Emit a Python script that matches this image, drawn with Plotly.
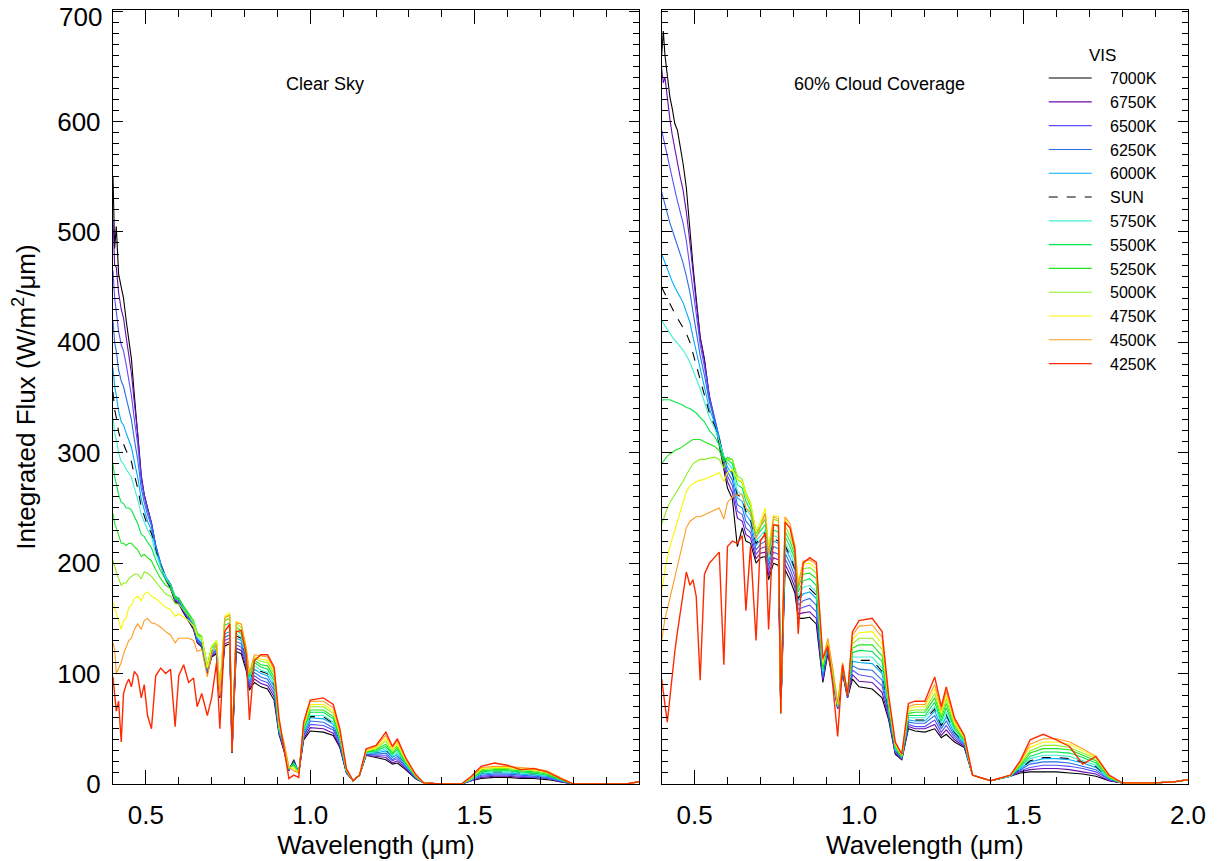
import plotly.graph_objects as go

# ---------------- data ----------------
wavelength = [0.400, 0.405, 0.410, 0.417, 0.425, 0.432, 0.440, 0.448, 0.456, 0.465,
              0.475, 0.486, 0.495, 0.505, 0.517, 0.530, 0.545, 0.560, 0.575, 0.589,
              0.600, 0.615, 0.630, 0.645, 0.656, 0.670, 0.687, 0.700, 0.715, 0.725,
              0.740, 0.755, 0.762, 0.775, 0.790, 0.805, 0.815, 0.830, 0.850, 0.870,
              0.890, 0.905, 0.920, 0.935, 0.950, 0.965, 0.980, 1.000, 1.040, 1.070,
              1.090, 1.110, 1.130, 1.150, 1.170, 1.200, 1.230, 1.250, 1.265, 1.290,
              1.320, 1.345, 1.400, 1.460, 1.490, 1.520, 1.560, 1.600, 1.640, 1.680,
              1.720, 1.760, 1.800, 1.900, 1.960, 2.000]

series_names = ["7000K", "6750K", "6500K", "6250K", "6000K", "SUN",
                "5750K", "5500K", "5250K", "5000K", "4750K", "4500K", "4250K"]

y_tick_values = [0, 100, 200, 300, 400, 500, 600, 700]
y_tick_labels = ["0", "100", "200", "300", "400", "500", "600", ""]   # 700 drawn below, kept inside page

# Clear sky panel
clear_7000k = [550,485,505,462,450,440,420,400,385,352, 320,278,262,250,236,215,198,185,177,165,
               163,155,148,140,128,124,100,115,118,78, 125,127,28,120,118,103,85,92,88,86,
               76,45,30,12,22,10,40,48,47,44, 33,10,3,8,26,24,22,18,19,13, 5,1,0,0,3,5,6,6,5,5, 4,2,0,0,0,2]
clear_6750k = [510,470,468,445,430,422,405,388,372,345, 318,280,262,250,237,216,199,186,178,166,
               164,156,149,141,129,125,101,116,119,79, 127,129,28,123,121,106,87,95,91,89,
               79,46,31,12,21,10,41,51,50,46, 34,10,3,8,26,25,24,19,21,14, 5,1,0,0,3,6,7,7,6,6, 5,2,0,0,0,2]
clear_6500k = [465,440,428,410,398,392,380,366,352,330, 308,275,260,248,236,216,200,187,179,167,
               165,157,150,142,130,126,102,117,120,80, 130,132,29,126,124,109,89,98,94,92,
               82,47,32,13,21,10,43,54,53,49, 36,11,3,8,27,26,26,21,23,15, 6,1,0,0,3,7,8,8,7,6, 5,3,0,0,0,2]
clear_6250k = [420,400,392,375,365,360,350,340,330,312, 294,268,255,244,234,215,200,188,180,168,
               166,158,151,143,131,127,103,118,121,81, 133,135,29,129,127,111,91,101,97,95,
               85,48,33,13,20,10,44,57,56,51, 37,11,3,8,27,27,28,22,25,16, 6,1,0,0,4,8,9,9,8,7, 6,3,0,0,0,2]
clear_6000k = [377,360,352,338,328,325,318,312,305,292, 278,258,248,238,230,213,199,188,181,169,
               167,159,152,144,132,128,104,119,122,82, 136,138,29,132,130,114,93,104,100,98,
               88,49,34,13,20,10,46,60,59,54, 39,11,3,8,28,28,30,24,27,17, 6,1,0,0,4,9,10,10,9,8, 7,3,0,0,0,2]
clear_sun = [355,339,332,319,310,308,302,297,292,280, 268,251,243,234,227,211,198,188,181,170,
             168,160,153,145,133,129,105,120,123,83, 138,140,29,134,132,115,94,106,102,100,
             90,50,35,14,20,10,47,61,61,55, 40,12,3,8,28,29,31,25,28,18, 7,1,0,0,4,10,11,11,10,9, 8,4,0,0,0,2]
clear_5750k = [332,318,312,300,292,290,285,282,278,268, 258,244,238,230,224,209,197,187,181,170,
               168,160,153,146,134,130,105,121,124,83, 140,142,30,136,133,116,95,107,103,101,
               91,50,35,14,19,10,47,62,62,56, 40,12,3,8,28,29,32,25,29,18, 7,1,0,0,4,10,11,11,10,9, 8,4,0,0,0,2]
clear_5500k = [290,278,272,262,255,254,250,250,248,242, 236,226,224,219,214,203,193,185,180,170,
               168,161,154,147,136,132,106,123,126,84, 144,146,30,139,136,118,97,110,106,104,
               94,51,36,14,18,10,49,65,65,59, 42,12,3,8,29,30,34,27,31,19, 7,1,0,0,5,11,12,12,11,10, 8,4,0,0,0,2]
clear_5250k = [245,236,232,225,218,218,216,218,218,215, 212,206,208,205,202,194,186,180,177,168,
               167,161,155,148,137,133,107,124,128,85, 148,150,30,142,139,120,99,112,108,107,
               97,52,36,14,17,10,50,67,67,61, 43,12,3,8,29,31,36,28,33,20, 7,1,0,0,5,12,13,13,12,11, 9,4,0,0,0,2]
clear_5000k = [203,196,192,186,180,182,182,186,188,190, 190,186,192,191,188,183,177,172,170,163,
               163,158,153,147,137,134,107,125,130,85, 151,153,31,145,142,122,100,114,111,110,
               100,53,37,15,16,10,52,70,70,64, 45,13,3,8,30,32,39,30,35,21, 8,1,0,0,5,13,14,14,13,12, 10,5,0,0,0,2]
clear_4750k = [165,160,155,150,140,148,150,160,162,168, 170,166,172,174,170,168,164,160,158,152,
               154,151,148,143,134,132,105,124,130,84, 152,155,31,147,145,124,101,116,113,112,
               102,54,37,15,14,10,53,72,72,66, 46,13,3,8,30,33,41,31,37,22, 8,1,0,0,6,14,15,15,14,13, 11,5,0,0,0,2]
clear_4500k = [128,122,100,105,110,118,125,130,132,140, 145,140,148,150,146,145,142,138,135,128,
               132,132,132,130,120,122,97,118,126,80, 150,153,31,146,145,124,100,117,116,115,
               104,55,38,15,12,10,55,75,75,69, 48,13,3,8,31,34,44,33,39,23, 8,1,0,0,6,15,16,16,15,14, 12,6,0,0,0,2]
clear_4250k = [97,80,66,75,38,82,90,95,88,102, 98,78,90,62,50,98,105,100,104,52,
               98,108,92,96,70,82,62,78,110,50, 138,145,29,138,139,118,58,112,117,117,
               106,60,33,5,8,6,56,76,78,72, 50,14,3,8,32,35,47,34,41,24, 9,1,0,0,7,16,19,17,13,14, 11,5,0,0,0,2]

# 60% cloud coverage panel
cloud_7000k = [660,682,660,640,622,612,598,592,578,562, 540,500,470,440,405,385,350,330,308,285,
               268,258,215,232,220,218,200,205,206,185, 200,198,64,194,185,173,150,150,151,145,
               92,118,95,68,100,78,95,88,86,78, 58,27,22,50,48,47,50,42,45,38, 33,8,3,7,10,11,11,11,10,9, 7,3,1,1,2,4]
cloud_6750k = [648,635,640,620,602,588,574,562,550,538, 518,490,462,436,404,383,352,333,312,290,
               274,264,241,238,226,223,204,209,210,189, 205,203,64,199,190,178,154,155,156,150,
               94,120,96,68,101,78,99,93,92,83, 60,28,22,52,50,50,54,44,49,40, 34,8,3,7,11,13,14,14,13,11, 9,3,1,1,2,4]
cloud_6500k = [592,585,578,568,558,548,538,528,518,508, 492,470,448,426,398,378,350,333,314,293,
               279,270,247,244,232,228,208,213,215,193, 210,208,64,204,195,183,158,160,162,156,
               96,122,97,69,102,79,103,99,97,89, 62,29,23,54,52,52,58,47,53,42, 35,8,3,7,12,15,17,17,16,14, 11,4,1,1,2,4]
cloud_6250k = [536,530,525,516,508,502,495,488,480,472, 460,445,428,410,388,370,346,331,314,295,
               283,275,253,250,238,233,212,217,220,197, 215,213,64,209,200,188,162,166,168,162,
               98,124,98,69,103,79,107,104,103,94, 64,30,23,56,55,55,62,50,57,44, 36,8,3,7,13,18,20,20,19,16, 13,4,1,1,2,4]
cloud_6000k = [480,476,472,466,460,455,450,446,441,436, 428,418,405,392,375,360,340,328,313,296,
               287,280,259,256,244,238,216,221,225,201, 220,218,64,214,205,193,166,172,174,168,
               100,126,99,70,104,80,111,110,109,100, 66,31,24,58,57,57,66,52,61,46, 37,8,3,7,14,20,23,23,22,19, 15,5,1,1,2,4]
cloud_sun = [450,447,444,439,434,430,426,422,418,414, 408,400,390,380,366,353,336,325,312,296,
             289,282,262,259,247,240,218,223,228,203, 222,220,64,216,207,195,168,175,177,171,
             101,126,99,70,104,80,113,112,112,102, 67,31,24,59,58,58,68,53,63,47, 37,8,3,7,14,21,24,24,23,20, 16,5,1,1,2,4]
cloud_5750k = [420,418,415,412,408,405,402,399,396,393, 388,382,375,368,358,346,332,323,311,296,
               291,285,265,262,250,243,220,225,230,205, 225,223,64,219,210,198,170,178,180,174,
               102,127,100,70,105,80,115,115,115,105, 68,32,24,60,60,60,70,55,65,48, 38,8,3,7,15,23,26,26,25,21, 17,5,1,1,2,4]
cloud_5500k = [347,348,348,348,348,347,346,345,344,343, 341,340,338,336,332,328,320,315,307,295,
               294,290,271,268,256,248,224,229,235,209, 230,228,64,224,215,203,174,184,186,180,
               104,128,101,71,106,81,119,121,120,111, 70,33,25,62,62,62,74,57,69,50, 39,8,3,8,16,25,29,29,28,24, 19,6,1,1,2,4]
cloud_5250k = [290,292,295,297,299,300,302,303,304,306, 308,310,312,312,312,310,308,306,302,292,
               296,294,276,273,261,252,227,233,240,212, 235,233,64,229,220,207,178,190,191,186,
               106,129,102,71,107,81,123,126,126,116, 72,34,25,64,65,65,78,60,73,52, 40,8,3,8,17,28,32,32,31,26, 21,6,1,1,2,4]
cloud_5000k = [235,240,245,250,255,258,262,266,270,274, 280,285,290,292,294,294,295,296,294,286,
               294,294,279,276,264,255,229,236,245,214, 240,238,64,234,225,211,181,195,196,191,
               108,130,103,72,108,82,127,132,132,122, 74,35,26,66,67,67,82,62,77,54, 41,8,3,8,18,30,35,35,33,28, 23,7,1,1,2,4]
cloud_4750k = [175,185,195,205,215,222,230,238,246,254, 265,270,272,274,275,276,278,280,282,274,
               282,285,276,274,262,254,228,237,250,214, 243,242,64,240,232,215,184,199,200,195,
               110,131,104,72,109,82,131,137,138,127, 76,36,26,68,70,70,86,65,80,56, 42,8,3,8,19,33,38,38,36,30, 24,7,1,1,2,4]
cloud_4500k = [130,140,150,158,168,178,188,198,208,218, 232,238,240,242,242,244,246,248,250,240,
               255,260,262,262,250,246,222,232,245,208, 242,240,64,242,236,216,180,202,203,199,
               112,132,105,73,110,83,135,143,144,133, 78,37,27,70,72,72,90,67,84,58, 43,8,3,8,20,36,41,41,38,32, 25,8,1,1,2,4]
cloud_4250k = [95,85,72,56,80,100,120,138,155,172, 192,180,185,170,94,190,200,205,210,108,
               215,220,218,225,157,215,130,220,227,140, 235,234,64,237,232,212,136,200,205,201,
               114,125,90,43,108,80,138,148,150,138, 80,38,27,73,75,75,97,70,88,60, 44,8,3,8,21,40,45,40,34,18, 25,8,1,1,2,4]

clear_series = [clear_7000k, clear_6750k, clear_6500k, clear_6250k, clear_6000k, clear_sun,
                clear_5750k, clear_5500k, clear_5250k, clear_5000k, clear_4750k, clear_4500k, clear_4250k]
cloud_series = [cloud_7000k, cloud_6750k, cloud_6500k, cloud_6250k, cloud_6000k, cloud_sun,
                cloud_5750k, cloud_5500k, cloud_5250k, cloud_5000k, cloud_4750k, cloud_4500k, cloud_4250k]

# ---------------- styles ----------------
colors = ["#000000", "#6a0cb0", "#5a50ff", "#2d6be6", "#00aaff", "#000000",
          "#40f0d0", "#00e64d", "#1ee61e", "#8cf01e", "#f7f700", "#ff9a1e", "#ff2a00"]
dashes = ["solid"] * 5 + ["dash"] + ["solid"] * 7
widths = [1.1] * 12 + [1.4]

FONT = "Liberation Sans, Arial, Helvetica, sans-serif"
PAD = "\u00a0\u00a0\u00a0"   # gap between legend line sample and its label

fig = go.Figure()
for i, name in enumerate(series_names):
    fig.add_trace(go.Scatter(
        x=wavelength, y=clear_series[i], mode="lines", name=PAD + name,
        line=dict(color=colors[i], width=widths[i], dash=dashes[i]),
        legendgroup=name, showlegend=True, xaxis="x", yaxis="y"))
for i, name in enumerate(series_names):
    fig.add_trace(go.Scatter(
        x=wavelength, y=cloud_series[i], mode="lines", name=PAD + name,
        line=dict(color=colors[i], width=widths[i], dash=dashes[i]),
        legendgroup=name, showlegend=False, xaxis="x2", yaxis="y2"))

x_minor = [0.5, 0.6, 0.7, 0.8, 0.9, 1.0, 1.1, 1.2, 1.3, 1.4, 1.5, 1.6, 1.7, 1.8, 1.9]
tickfont = dict(family=FONT, size=26, color="black")

xcommon = dict(range=[0.4, 2.0], showline=True, linecolor="black", linewidth=1.4,
               mirror="ticks", ticks="inside", ticklen=14, tickwidth=1.2, tickcolor="black",
               showgrid=False, zeroline=False, tickfont=tickfont, ticklabelstandoff=8,
               automargin=False,
               minor=dict(tickmode="array", tickvals=x_minor, ticks="inside", ticklen=7,
                          tickwidth=1.1, tickcolor="black", showgrid=False),
               title=dict(text="Wavelength (μm)", font=dict(family=FONT, size=26, color="black"),
                          standoff=6))
ycommon = dict(range=[0, 701], showline=True, linecolor="black", linewidth=1.4,
               mirror="ticks", ticks="inside", ticklen=10, tickwidth=1.2, tickcolor="black",
               showgrid=False, zeroline=False, tickfont=tickfont, tickmode="array",
               tickvals=y_tick_values, ticktext=y_tick_labels, automargin=False,
               minor=dict(tickmode="linear", tick0=0, dtick=10, ticks="inside", ticklen=6,
                          tickwidth=1.1, tickcolor="black", showgrid=False))

fig.update_layout(
    width=1219, height=861,
    margin=dict(l=113, r=31, t=10, b=77, autoexpand=False),
    paper_bgcolor="white", plot_bgcolor="white",
    font=dict(family=FONT, color="black"),
    xaxis=dict(xcommon, domain=[0, 0.4893], anchor="y",
               tickmode="array", tickvals=[0.5, 1.0, 1.5], ticktext=["0.5", "1.0", "1.5"]),
    xaxis2=dict(xcommon, domain=[0.5104, 1], anchor="y2",
                tickmode="array", tickvals=[0.5, 1.0, 1.5, 2.0],
                ticktext=["0.5", "1.0", "1.5", "2.0"]),
    yaxis=dict(ycommon, anchor="x", ticklabelstandoff=6,
               title=dict(text="Integrated Flux (W/m<sup>2</sup>/μm)",
                          font=dict(family=FONT, size=26, color="black"), standoff=14)),
    yaxis2=dict(ycommon, anchor="x2", matches="y", showticklabels=False),
    legend=dict(x=0.8658, xanchor="left", y=0.9625, yanchor="top",
                bgcolor="rgba(0,0,0,0)", borderwidth=0,
                font=dict(family=FONT, size=16, color="black"),
                title=dict(text="VIS", side="top center",
                           font=dict(family=FONT, size=17, color="black")),
                itemwidth=43, tracegroupgap=0, traceorder="normal"),
    annotations=[
        dict(text="Clear Sky", x=1.045, y=634, xref="x", yref="y", showarrow=False,
             font=dict(family=FONT, size=18, color="black")),
        dict(text="60% Cloud Coverage", x=1.063, y=634, xref="x2", yref="y2", showarrow=False,
             font=dict(family=FONT, size=18, color="black")),
        # top y tick label, nudged down so it stays inside the page (as in the reference)
        dict(text="700", x=-0.0082, y=0.991, xref="paper", yref="paper",
             xanchor="right", yanchor="middle", showarrow=False,
             font=dict(family=FONT, size=26, color="black")),
    ],
)

fig.write_html("out.html")
